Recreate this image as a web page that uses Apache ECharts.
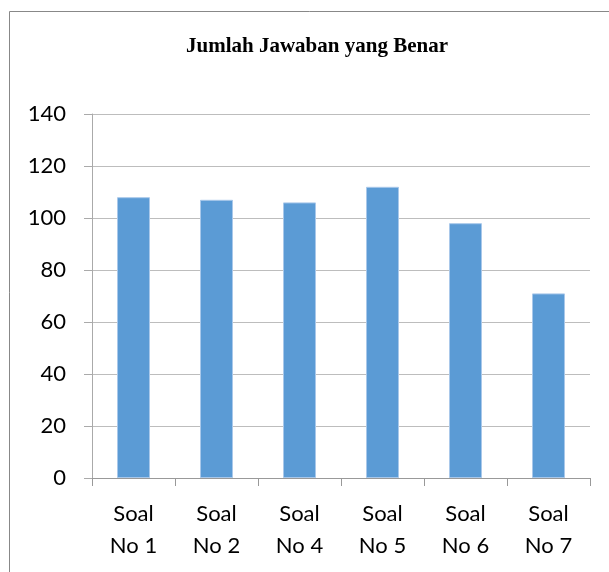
<!DOCTYPE html>
<html><head><meta charset="utf-8">
<script src="https://cdn.jsdelivr.net/npm/echarts@6/dist/echarts.min.js"></script>
<style>html,body{margin:0;padding:0;background:#fff}#c{width:609px;height:572px}</style>
</head><body><div id="c"></div>
<script>
const titleText = 'Jumlah Jawaban yang Benar';
const categories = ['Soal\nNo 1','Soal\nNo 2','Soal\nNo 4','Soal\nNo 5','Soal\nNo 6','Soal\nNo 7'];
const values = [108, 107, 106, 112, 98, 71];

const chart = echarts.init(document.getElementById('c'));
chart.setOption({
  animation: false,
  backgroundColor: '#fff',
  graphic: [{
    type: 'rect', shape: {x: 9.5, y: 11.5, width: 620, height: 600},
    style: {fill: 'none', stroke: '#888', lineWidth: 1}, silent: true
  }],
  title: {
    text: titleText, left: 312, top: 31, textAlign: 'center',
    textStyle: {fontFamily: 'Liberation Serif', fontWeight: 'bold', fontSize: 21, color: '#000'}
  },
  grid: {left: 92, right: 19, top: 114, bottom: 94},
  xAxis: {
    type: 'category', data: categories,
    axisLine: {lineStyle: {color: '#999', width: 1}},
    axisTick: {show: true, length: 8, lineStyle: {color: '#999'}},
    axisLabel: {fontFamily: 'Lato', fontSize: 22, color: '#000', lineHeight: 32, margin: 20}
  },
  yAxis: {
    type: 'value', min: 0, max: 140, interval: 20,
    axisLine: {show: true, lineStyle: {color: '#aaa', width: 1}},
    axisTick: {show: true, length: 8, lineStyle: {color: '#aaa'}},
    splitLine: {lineStyle: {color: '#bdbdbd', width: 1}},
    axisLabel: {fontFamily: 'Lato', fontSize: 22, color: '#000', margin: 26}
  },
  series: [{
    type: 'bar', data: values, barWidth: 33,
    itemStyle: {color: '#5b9bd5', borderColor: '#a9c8ea', borderWidth: 1}
  }]
});
</script></body></html>
